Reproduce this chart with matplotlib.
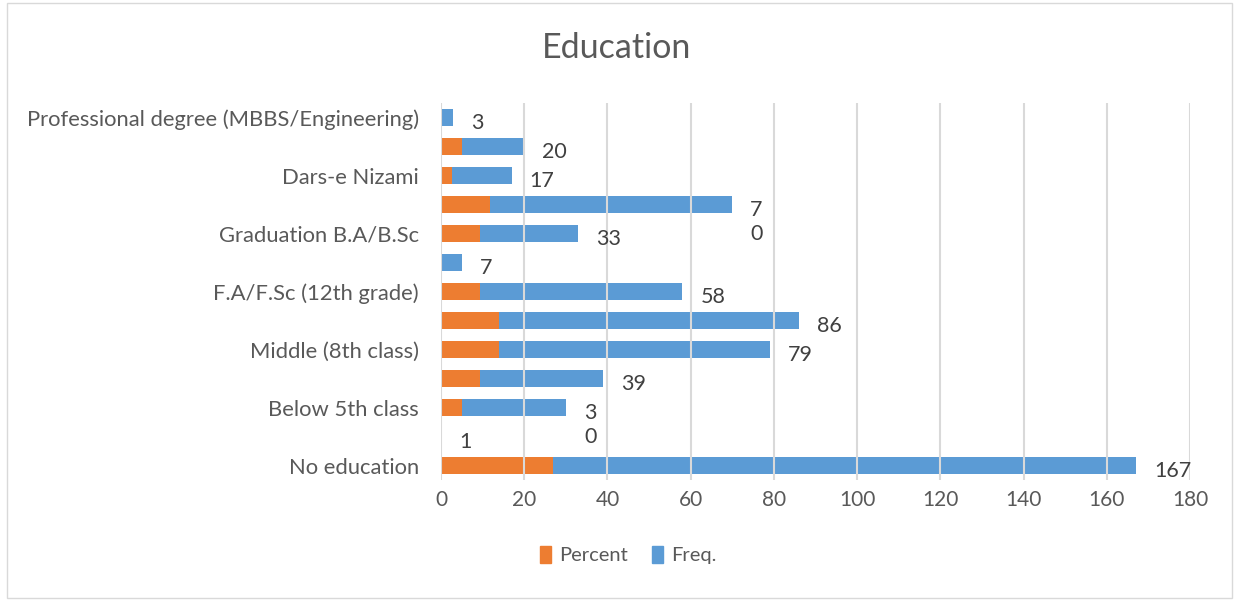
import numpy as np
import matplotlib.pyplot as plt
from matplotlib.patches import Patch, Rectangle

plt.rcParams['font.family'] = ['Lato', 'DejaVu Sans']

# rows from bottom to top, only every other row has a visible category name
categories = ['No education', '', 'Below 5th class', '', 'Middle (8th class)', '',
              'F.A/F.Sc (12th grade)', '', 'Graduation B.A/B.Sc', '', 'Dars-e Nizami', '',
              'Professional degree (MBBS/Engineering)']
freq = [167, 0, 30, 39, 79, 86, 58, 5, 33, 70, 17, 20, 3]
percent = [27, 0, 5, 9.4, 14, 14, 9.4, 0, 9.4, 11.7, 2.6, 5, 0]
freq_labels = ['167', '1', '3\n0', '39', '79', '86', '58', '7', '33', '7\n0', '17', '20', '3']
xticks = [0, 20, 40, 60, 80, 100, 120, 140, 160, 180]

blue = '#5B9BD5'
orange = '#ED7D31'
grey = '#595959'

fig = plt.figure(figsize=(12.34, 6), dpi=100)
ax = fig.add_axes([441/1234, 1-480/600, (1190-441)/1234, (480-103)/600])

y = np.arange(len(categories))
ax.barh(y, freq, height=0.6, color=blue, zorder=1)
ax.barh(y, percent, height=0.6, color=orange, zorder=1.1)

for i in range(len(y)):
    ax.annotate(freq_labels[i], (freq[i], y[i]), xytext=(13, 3), textcoords='offset points',
                ha='left', va='top', fontsize=15.5, color='#404040', linespacing=1.22)

ax.set_xlim(0, 180)
ax.set_ylim(-0.5, len(categories)-0.5)
ax.set_xticks(xticks)
ax.set_yticks(y)
ax.set_yticklabels(categories)
ax.tick_params(axis='both', length=0, labelsize=15, labelcolor=grey)
ax.tick_params(axis='y', labelsize=15.8, pad=16)
ax.tick_params(axis='x', pad=7)
for s in ax.spines.values():
    s.set_visible(False)
ax.set_axisbelow(False)
ax.grid(axis='x', color='#d9d9d9', linewidth=1.5)

fig.text(0.5, 1-48/600, 'Education', ha='center', va='center', fontsize=24.5, color=grey)

handles = [Patch(color=orange, label='Percent'), Patch(color=blue, label='Freq.')]
fig.legend(handles=handles, loc='center', bbox_to_anchor=(0.509, 0.075), ncol=2, frameon=False,
           fontsize=14.5, labelcolor=grey, handlelength=0.55, handleheight=0.9,
           handletextpad=0.4, columnspacing=1.2)

fig.patches.append(Rectangle((7/1234, 2/600), 1225/1234, 595/600, transform=fig.transFigure,
                             fill=False, edgecolor='#d9d9d9', linewidth=1))

plt.savefig('out.png', dpi=100)
